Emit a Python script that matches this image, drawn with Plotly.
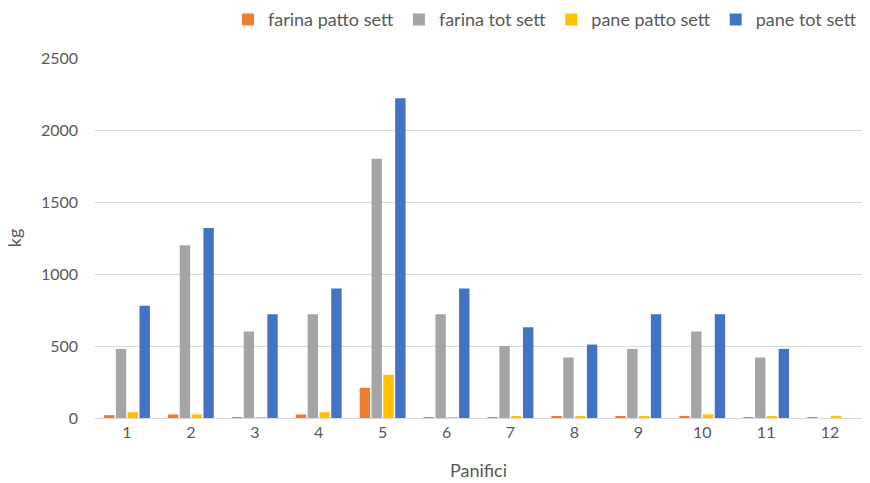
import plotly.graph_objects as go

categories = ["1", "2", "3", "4", "5", "6", "7", "8", "9", "10", "11", "12"]
farina_patto = [20, 25, 3, 25, 210, 5, 5, 7, 10, 15, 5, 5]
farina_tot = [480, 1200, 600, 720, 1800, 720, 500, 420, 480, 600, 420, 0]
pane_patto = [40, 25, 5, 40, 300, 5, 12, 12, 12, 25, 10, 15]
pane_tot = [780, 1320, 720, 900, 2220, 900, 630, 510, 720, 720, 480, 0]

series = [
    ("farina patto sett", farina_patto, "#ED7D31"),
    ("farina tot sett", farina_tot, "#A5A5A5"),
    ("pane patto sett", pane_patto, "#FFC000"),
    ("pane tot sett", pane_tot, "#4472C4"),
]

fig = go.Figure()
for name, vals, color in series:
    fig.add_trace(go.Bar(x=categories, y=vals, name=name, marker_color=color,
                         marker_line_width=0))

font = dict(family="Lato, Open Sans, sans-serif", color="#595959", size=16)
fig.update_layout(
    width=870, height=483,
    margin=dict(l=95, r=8, t=58, b=65, autoexpand=False),
    paper_bgcolor="white", plot_bgcolor="white",
    font=font,
    barmode="group", bargap=0.26, bargroupgap=0.12,
    showlegend=True,
    legend=dict(orientation="h", x=1.0, xanchor="right", y=1.055, yanchor="bottom",
                font=dict(size=18, color="#595959"), itemwidth=30,
                traceorder="normal"),
    xaxis=dict(title=dict(text="Panifici", font=dict(size=18), standoff=24),
               automargin=False,
               showline=True, linecolor="#D9D9D9", linewidth=1,
               ticks="", tickfont=dict(size=16)),
    yaxis=dict(title=dict(text="kg", font=dict(size=18), standoff=14),
               automargin=False,
               range=[0, 2500], dtick=500, gridcolor="#D9D9D9",
               zeroline=False, showline=False, ticks="",
               ticklabelstandoff=16,
               tickfont=dict(size=16)),
)

fig.write_html("out.html")
